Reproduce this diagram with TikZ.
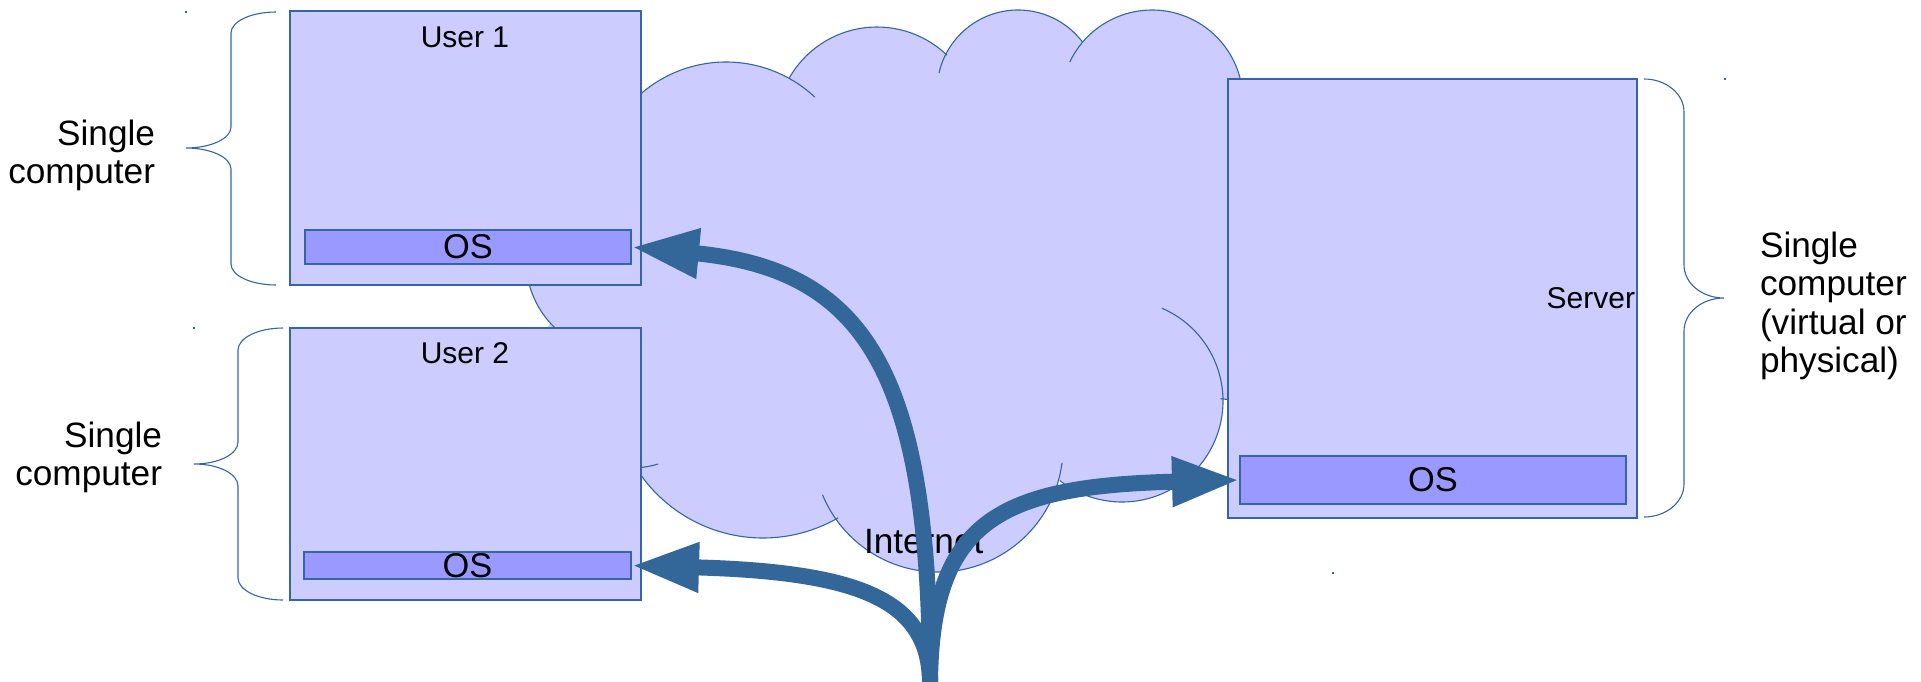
\documentclass[tikz,border=0pt]{standalone}
\usepackage{fontspec}
\setmainfont{Liberation Sans}
\usetikzlibrary{arrows.meta}
\definecolor{boxfill}{HTML}{CCCCFF}
\definecolor{osfill}{HTML}{9999FF}
\definecolor{linecol}{HTML}{3465A4}
\definecolor{arrowcol}{HTML}{336699}
\newcommand\bigtxt{\fontsize{17.6}{19.25}\selectfont}
\newcommand\ostxt{\fontsize{17.2}{19.25}\selectfont}
\newcommand\midtxt{\fontsize{15}{17}\selectfont}
\begin{document}
\begin{tikzpicture}[x=0.5pt,y=-0.5pt,
  cloudfill/.style={fill=boxfill},
  cloudline/.style={draw=linecol, line width=0.55pt},
  pcbox/.style={draw=linecol, fill=boxfill, line width=0.75pt, inner sep=0pt, outer sep=0pt, anchor=north west},
  osbar/.style={draw=linecol, fill=osfill, line width=0.75pt, inner sep=0pt, outer sep=0pt, anchor=north west, font=\ostxt},
  brace/.style={draw=linecol, line width=0.55pt},
  lbl/.style={inner sep=0pt, outer sep=0pt},
  flow/.style={draw=arrowcol, line width=8pt, -{Triangle[length=34pt,width=23pt]}},
  dot/.style={fill=linecol}
]
\useasboundingbox (0,0) rectangle (1921,681);

% ---------- cloud ----------
\coordinate (cA) at (620,260);
\coordinate (cB) at (726,192);
\coordinate (cC) at (877,128);
\coordinate (cD) at (1018,91);
\coordinate (cE) at (1152,101);
\coordinate (cJ) at (1240,260);
\coordinate (cF) at (1122,401);
\coordinate (cG) at (938,447);
\coordinate (cH) at (763,388);
\coordinate (cI) at (631,373);

\fill[cloudfill] (cA) -- (cB) -- (cC) -- (cD) -- (cE) -- (cJ) -- (cF) -- (cG) -- (cH) -- (cI) -- cycle;
\fill[cloudfill] (cA) circle[radius=94];
\fill[cloudfill] (cB) circle[radius=130];
\fill[cloudfill] (cC) circle[radius=101];
\fill[cloudfill] (cD) circle[radius=81];
\fill[cloudfill] (cE) circle[radius=91];
\fill[cloudfill] (cJ) circle[radius=140];
\fill[cloudfill] (cF) circle[radius=101];
\fill[cloudfill] (cG) circle[radius=125];
\fill[cloudfill] (cH) circle[radius=150];
\fill[cloudfill] (cI) circle[radius=95];

\draw[cloudline] ([shift={(128:94)}]cA) arc[start angle=128, end angle=250, radius=94];
\draw[cloudline] ([shift={(200:130)}]cB) arc[start angle=200, end angle=313.1, radius=130];
\draw[cloudline] ([shift={(209.6:101)}]cC) arc[start angle=209.6, end angle=313.8, radius=101];
\draw[cloudline] ([shift={(192.8:81)}]cD) arc[start angle=192.8, end angle=322.6, radius=81];
\draw[cloudline] ([shift={(205.4:91)}]cE) arc[start angle=205.4, end angle=360, radius=91];
\draw[cloudline] ([shift={(80:140)}]cJ) arc[start angle=80, end angle=98, radius=140];
\draw[cloudline] ([shift={(293.3:101)}]cF) arc[start angle=293.3, end angle=488, radius=101];
\draw[cloudline] ([shift={(7.3:125)}]cG) arc[start angle=7.3, end angle=157.5, radius=125];
\draw[cloudline] ([shift={(60:150)}]cH) arc[start angle=60, end angle=160, radius=150];
\draw[cloudline] ([shift={(73.5:95)}]cI) arc[start angle=73.5, end angle=200, radius=95];

% ---------- computers ----------
\node[pcbox, minimum width=175.5pt, minimum height=137pt] (u1) at (290,11) {};
\node[osbar, minimum width=163pt, minimum height=17pt] (os1) at (305,230) {OS};
\node[lbl, anchor=base, font=\midtxt] (u1lbl) at (465,47) {User 1};

\node[pcbox, minimum width=175.5pt, minimum height=136pt] (u2) at (290,328) {};
\node[osbar, minimum width=163.5pt, minimum height=13.5pt] (os2) at (304,552) {OS};
\node[lbl, anchor=base, font=\midtxt] (u2lbl) at (465,363) {User 2};

\node[pcbox, minimum width=204.5pt, minimum height=219.5pt] (srv) at (1228,79) {};
\node[osbar, minimum width=193pt, minimum height=24pt] (os3) at (1240,456) {OS};
\node[lbl, anchor=base east, font=\midtxt] (srvlbl) at (1635,308) {Server};

% ---------- braces ----------
\draw[brace] (276,12) .. controls (251.2,12) and (231,21.4) .. (231,33) -- (231,127)
  .. controls (231,138.6) and (210.8,148) .. (186,148)
  .. controls (210.8,148) and (231,157.4) .. (231,169) -- (231,264)
  .. controls (231,275.6) and (251.2,285) .. (276,285);
\draw[brace] (283,328) .. controls (258.2,328) and (238,337.9) .. (238,350) -- (238,442)
  .. controls (238,454.1) and (218.8,464) .. (194,464)
  .. controls (218.8,464) and (238,473.9) .. (238,486) -- (238,578)
  .. controls (238,590.1) and (258.2,600) .. (283,600);
\draw[brace] (1644,79) .. controls (1666.1,79) and (1684,93.8) .. (1684,112) -- (1684,265)
  .. controls (1684,283.2) and (1701.9,298) .. (1724,298)
  .. controls (1701.9,298) and (1684,312.8) .. (1684,331) -- (1684,484)
  .. controls (1684,502.2) and (1666.1,517) .. (1644,517);

\fill[dot] (185,11) rectangle (187,13);
\fill[dot] (193,327) rectangle (195,329);
\fill[dot] (1724,78) rectangle (1726,80);
\fill[dot] (1332,572) rectangle (1334,574);

\node[lbl, anchor=base east, font=\bigtxt] (l1) at (155,145)
  {\begin{tabular}[t]{@{}r@{}}Single\\computer\end{tabular}};
\node[lbl, anchor=base east, font=\bigtxt] (l2) at (162,447)
  {\begin{tabular}[t]{@{}r@{}}Single\\computer\end{tabular}};
\node[lbl, anchor=base west, font=\bigtxt] (l3) at (1760,257)
  {\begin{tabular}[t]{@{}l@{}}Single\\computer\\(virtual or\\physical)\end{tabular}};

% ---------- internet label ----------
\node[lbl, anchor=base west, font=\bigtxt] (inet) at (864,553) {Internet};

% ---------- arrows ----------
\coordinate (base) at (930,684);
\draw[flow] (base) .. controls (930,380) and (870,270) .. (os1.east);
\draw[flow] (base) .. controls (930,600) and (860,572) .. (os2.east);
\draw[flow] (base) .. controls (931,520) and (1000,486) .. (os3.west);
\end{tikzpicture}
\end{document}
